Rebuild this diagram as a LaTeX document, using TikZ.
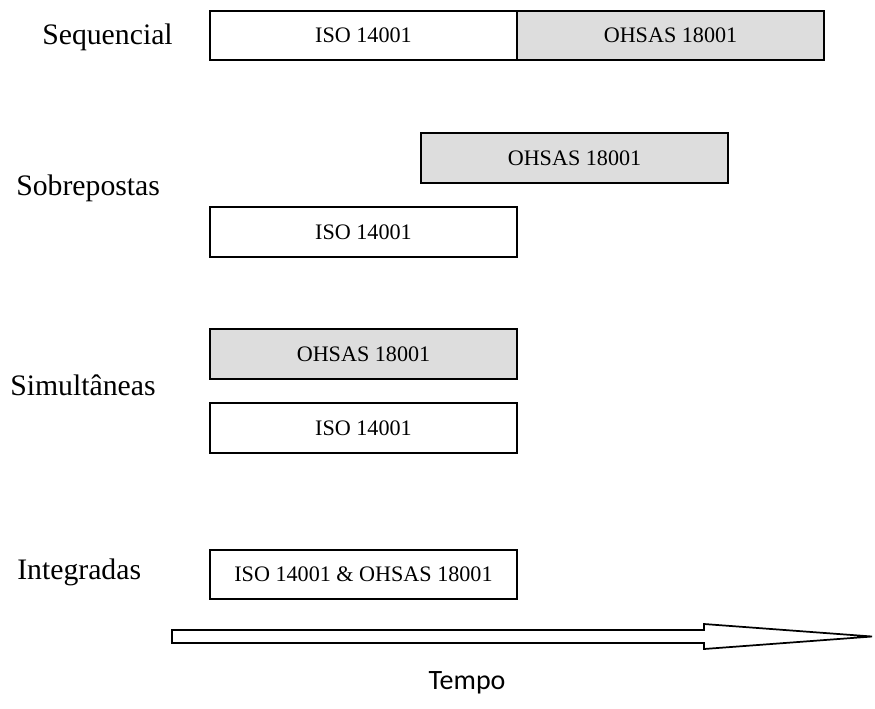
\documentclass[tikz,border=0pt]{standalone}
\usepackage{fontspec}
\setmainfont{Liberation Serif}
\newfontfamily\tempofont{Carlito}
\usetikzlibrary{positioning}
\definecolor{boxgray}{HTML}{DDDDDD}

\begin{document}
\begin{tikzpicture}[x=0.75pt, y=-0.75pt,
    phase/.style={draw, line width=1.3pt, inner sep=0pt, outer sep=0pt,
      minimum width=230.25pt, minimum height=37pt,
      font=\fontsize{16.6}{19}\selectfont},
    ohsas/.style={phase, fill=boxgray},
    rowlabel/.style={anchor=west, inner sep=0pt,
      font=\fontsize{22.3}{26}\selectfont}]
      \useasboundingbox (0,0) rectangle (875,708);
      % Row labels
      \node[rowlabel] (seq) at (42,37) {Sequencial};
      \node[rowlabel] (sob) at (16,188) {Sobrepostas};
      \node[rowlabel] (sim) at (10,385) {Simultâneas};
      \node[rowlabel] (int) at (17,572) {Integradas};
      % Sequencial
      \node[phase] (seqiso) at (363.5,35.5) {ISO 14001};
      \node[ohsas, right=0pt of seqiso] (seqohsas) {OHSAS 18001};
      % Sobrepostas
      \node[ohsas] (sobohsas) at (574.5,158) {OHSAS 18001};
      \node[phase] (sobiso) at (363.5,232) {ISO 14001};
      % Simultaneas
      \node[ohsas] (simohsas) at (363.5,354) {OHSAS 18001};
      \node[phase, below=18.5pt of simohsas] (simiso) {ISO 14001};
      % Integradas
      \node[phase] (intboth) at (363.5,574.5) {ISO 14001 \& OHSAS 18001};
      % Time arrow
      \coordinate (tstart) at (172,636.5);
      \coordinate (ttip) at (872,636.5);
      \draw[line width=1.3pt, line join=miter]
        (tstart |- 0,630) -- (704,630) -- (704,624) -- (ttip)
        -- (704,649) -- (704,643) -- (tstart |- 0,643) -- cycle;
      \node[font=\tempofont\fontsize{21}{24}\selectfont] (tempo) at (467,683) {Tempo};
    \end{tikzpicture}
\end{document}
